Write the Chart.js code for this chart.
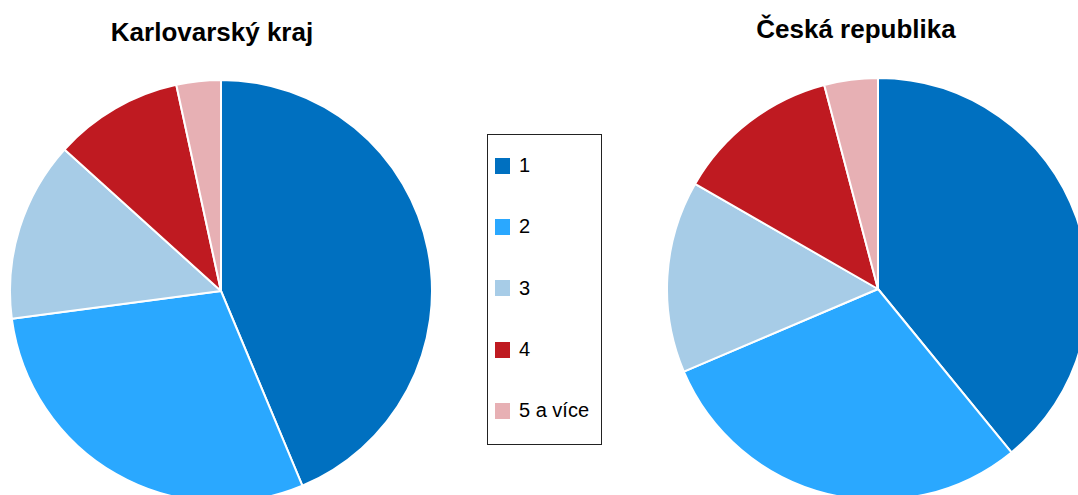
<!DOCTYPE html>
<html lang="cs">
<head>
<meta charset="utf-8">
<script src="https://cdn.jsdelivr.net/npm/chart.js@4.4.1/dist/chart.umd.min.js"></script>
<style>
    html, body {
        margin: 0;
        padding: 0;
        width: 1078px;
        height: 495px;
        overflow: hidden;
        background: #ffffff;
        font-family: "Liberation Sans", Arial, sans-serif;
    }
    .pie {
        position: absolute;
    }
    #leftPie {
        left: 9px;
        top: 79px;
    }
    #rightPie {
        left: 666px;
        top: 77px;
    }
    .title {
        position: absolute;
        width: 400px;
        text-align: center;
        font-weight: bold;
        font-size: 26px;
        line-height: 26px;
        color: #000;
    }
    #leftTitle {
        left: 12px;
        top: 19px;
    }
    #rightTitle {
        left: 656px;
        top: 16px;
    }
    #legend {
        position: absolute;
        left: 487px;
        top: 134px;
        width: 113px;
        height: 309px;
        border: 1px solid #222;
        box-sizing: content-box;
    }
    #legend ul {
        list-style: none;
        margin: 0;
        padding: 0;
    }
    #legend li {
        height: 61.3px;
        display: flex;
        align-items: center;
        font-size: 20px;
        color: #000;
    }
    #legend .swatch {
        width: 15px;
        height: 16px;
        margin-left: 7px;
        margin-right: 9px;
    }
</style>
</head>
<body>
<div class="title" id="leftTitle">Karlovarský kraj</div>
<div class="title" id="rightTitle">Česká republika</div>
<canvas class="pie" id="leftPie" width="424" height="424"></canvas>
<canvas class="pie" id="rightPie" width="424" height="424"></canvas>
<div id="legend"></div>

<script>
// podíl domácností podle počtu členů (%)
const categories = ["1", "2", "3", "4", "5 a více"];
const karlovarsky = [43.7, 29.2, 13.8, 9.9, 3.4];
const ceskaRepublika = [39.1, 29.5, 14.7, 12.6, 4.1];
const colors = ["#0070C0", "#2AA8FF", "#A7CCE7", "#BF1A21", "#E7B0B4"];

// legend drawn as html from the chart's own legend items
const htmlLegend = {
    id: "htmlLegend",
    afterUpdate(chart, args, options) {
        const container = document.getElementById(options.containerID);
        if (!container) return;
        container.innerHTML = "";
        const ul = document.createElement("ul");
        const items = chart.options.plugins.legend.labels.generateLabels(chart);
        items.forEach((item) => {
            const li = document.createElement("li");
            const box = document.createElement("span");
            box.className = "swatch";
            box.style.background = item.fillStyle;
            const text = document.createElement("span");
            text.textContent = item.text;
            li.appendChild(box);
            li.appendChild(text);
            ul.appendChild(li);
        });
        container.appendChild(ul);
    },
};

function pieConfig(values, withLegend) {
    return {
        type: "pie",
        data: {
            labels: categories,
            datasets: [
                {
                    data: values,
                    backgroundColor: colors,
                    borderColor: "#ffffff",
                    borderWidth: 2,
                },
            ],
        },
        options: {
            responsive: false,
            animation: false,
            layout: { padding: 0 },
            plugins: {
                legend: { display: false },
                tooltip: { enabled: false },
                htmlLegend: withLegend ? { containerID: "legend" } : false,
            },
        },
        plugins: withLegend ? [htmlLegend] : [],
    };
}

new Chart(document.getElementById("leftPie"), pieConfig(karlovarsky, true));
new Chart(document.getElementById("rightPie"), pieConfig(ceskaRepublika, false));
</script>
</body>
</html>
